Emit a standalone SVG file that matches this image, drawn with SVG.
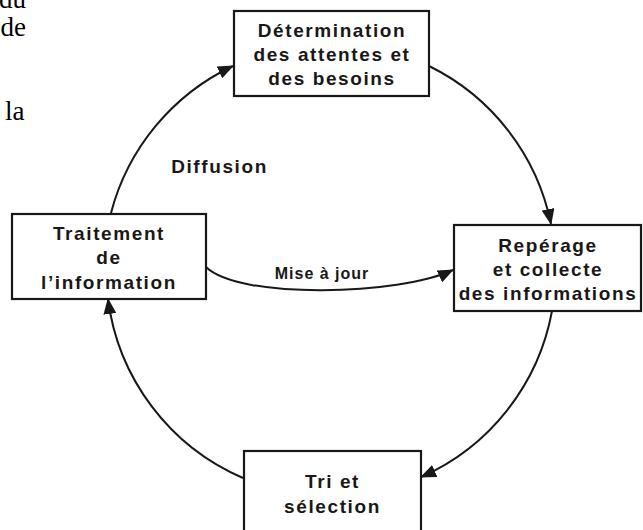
<svg xmlns="http://www.w3.org/2000/svg" width="643" height="530" viewBox="0 0 643 530">
<defs>
<marker id="ah" markerWidth="16" markerHeight="13" refX="15" refY="6.5" orient="auto" markerUnits="userSpaceOnUse">
<path d="M0,0 L16,6.5 L0,13 Z" fill="#1a1717"/>
</marker>
<style>
.box{fill:#fff;stroke:#1a1717;stroke-width:2.2}
.t{font-family:"Liberation Sans",Arial,sans-serif;font-weight:bold;font-size:19px;letter-spacing:1.6px;fill:#1a1717;text-anchor:middle}
.c{fill:none;stroke:#1a1717;stroke-width:2}
.bg{font-family:"Liberation Serif","Times New Roman",serif;font-size:27px;fill:#000}
</style>
</defs>
<rect width="643" height="530" fill="#fff"/>
<g id="bgtext">
<text class="bg" x="26" y="8" text-anchor="end">du</text>
<text class="bg" x="26" y="36" text-anchor="end">de</text>
<text class="bg" x="5" y="120">la</text>
</g>
<g id="connectors">
<path class="c" d="M429,66 A226,226 0 0 1 551,224" marker-end="url(#ah)"/>
<path class="c" d="M552,311 A226,226 0 0 1 421,477" marker-end="url(#ah)"/>
<path class="c" d="M243,478 A226,226 0 0 1 108,299" marker-end="url(#ah)"/>
<path class="c" d="M111,213 A226,226 0 0 1 233,66" marker-end="url(#ah)"/>
<path class="c" d="M206,267 C240,300 400,295 453,270" marker-end="url(#ah)"/>
<text class="t" x="219.5" y="173">Diffusion</text>
<text class="t" x="322" y="279" style="font-size:16px;letter-spacing:1px">Mise à jour</text>
</g>
<g id="n-determination">
<rect class="box" x="234" y="11" width="195" height="85"/>
<text class="t" x="332" y="37">Détermination</text>
<text class="t" x="332" y="61">des attentes et</text>
<text class="t" x="332" y="85">des besoins</text>
</g>
<g id="n-traitement">
<rect class="box" x="12" y="214" width="194" height="85"/>
<text class="t" x="109" y="240">Traitement</text>
<text class="t" x="109" y="264">de</text>
<text class="t" x="109" y="289">l’information</text>
</g>
<g id="n-reperage">
<rect class="box" x="454" y="225" width="187" height="86"/>
<text class="t" x="548" y="252">Repérage</text>
<text class="t" x="548" y="276">et collecte</text>
<text class="t" x="548" y="300">des informations</text>
</g>
<g id="n-tri">
<rect class="box" x="244" y="451" width="177" height="90"/>
<text class="t" x="332.5" y="488">Tri et</text>
<text class="t" x="332.5" y="513">sélection</text>
</g>
</svg>
